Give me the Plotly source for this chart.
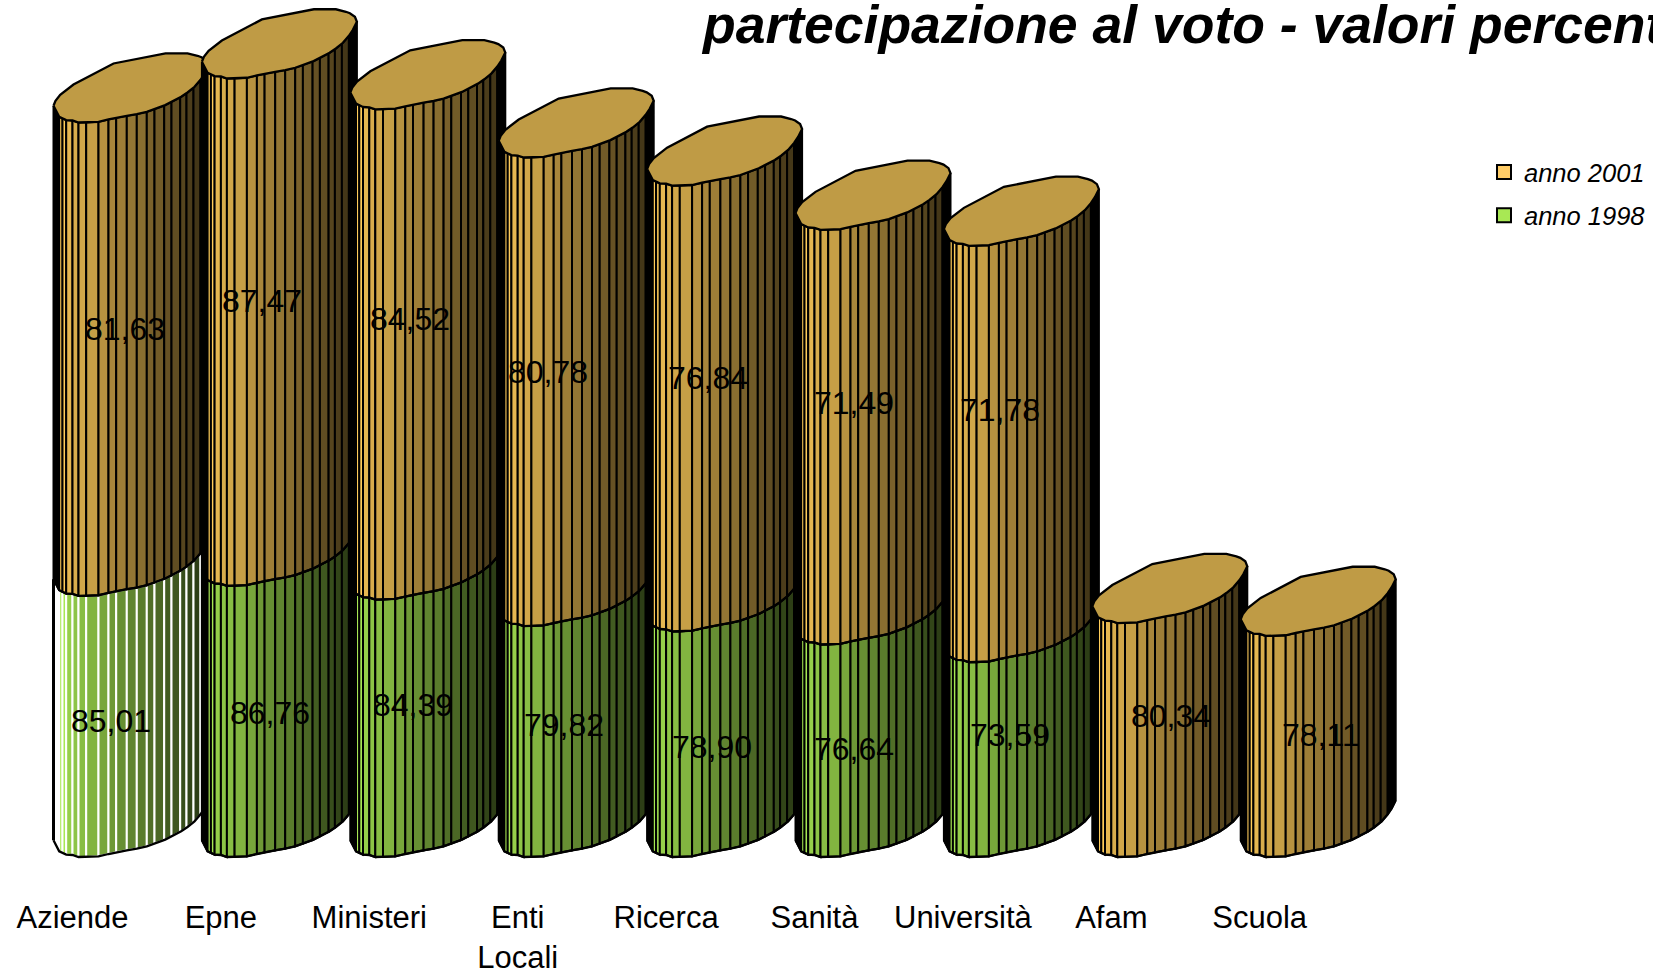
import numpy as np
import plotly.graph_objects as go

categories = ["Aziende", "Epne", "Ministeri", "Enti<br>Locali", "Ricerca", "Sanità", "Università", "Afam", "Scuola"]
anno_2001 = [81.63, 87.47, 84.52, 80.78, 76.84, 71.49, 71.78, 80.34, 78.11]
anno_1998 = [85.01, 86.76, 84.39, 79.82, 78.90, 76.64, 73.59, None, None]
AXIS_BASE = 40

# Scale of the picture
PX_X = 148.4      # px per category
PX_Y = 5.80       # px per value unit
W, H, MB = 1653, 974, 78
X0 = -127.5 / PX_X
Y_TOP = AXIS_BASE + 857 / PX_Y
Y_BOT = AXIS_BASE - (H - MB - 857) / PX_Y

# Cylinder geometry, px relative to its left point
FRONT = [(0, 0), (5.7, 11), (12.7, 14.3), (19, 14.7), (25, 16.7), (32.7, 16.7), (45, 16), (55, 13.7),
         (62.7, 12), (73.3, 10), (83.3, 8.3), (93.3, 6), (111.7, -0.7), (127.7, -9), (134, -13.3),
         (141, -19), (147, -26), (151, -32), (155, -40)]
BACK = [(155, -40), (153, -45), (148, -48.5), (144, -50), (134, -52.5), (112, -52.5), (60, -42.3), (40, -32),
        (20, -21.3), (6.7, -11), (2, -5), (0, 0)]
BREAKS = [0, 5.7, 9, 12.7, 19, 25, 32.7, 45, 55, 62.7, 73.3, 83.3, 93.3, 101, 110.7, 118, 126.7, 133, 140, 147, 155]
SHADE = [0, 1, 1, .9, .85, .82, .78, .72, .66, .62, .58, .54, .48, .45, .40, .38, .34, .30, .27, 0]
GOLD, GREEN, TOP_COL = (255, 204, 90), (167, 231, 83), "#BF9B45"
# Label offsets, px from the middle of the segment and the cylinder
LAB_2001_DX = [-3, -13.5, -14, -24.7, -13, -15.5, -18, 4.7, 6.3]
LAB_2001_DY = [-30, -31.5, -35.5, -20, -30.5, -34.5, -43.8, -24, -11.3]
LAB_1998_DX = [-16.8, -6, -11.3, -8.7, -9.6, -15.5, -8]
LAB_1998_DY = [-5, -8.5, -23, -17, 3, -1.6, -24.3]
TICK_SHIFT = -55 / PX_X

fx, fy = zip(*FRONT)


def front_y(dx):
    return float(np.interp(dx, fx, fy))


def to_data(i, level, pts):
    xs = [i + (dx - 74) / PX_X for dx, _ in pts]
    ys = [level - (dy - 16.7) / PX_Y for _, dy in pts]
    return xs, ys


def poly(fig, xs, ys, fill=None, line="black", width=2):
    fig.add_trace(go.Scatter(x=xs, y=ys, mode="lines", fill="toself" if fill else "none",
                             fillcolor=fill, line=dict(color=line, width=width),
                             hoverinfo="skip", showlegend=False))


def segment(fig, i, lo, hi, base, line="black"):
    for k in range(len(BREAKS) - 1):
        a, b = BREAKS[k], BREAKS[k + 1]
        inner = [(a, front_y(a))] + [p for p in FRONT if a < p[0] < b] + [(b, front_y(b))]
        xs1, ys1 = to_data(i, hi, inner)
        xs2, ys2 = to_data(i, lo, inner[::-1])
        s = SHADE[k]
        if s == 0 and line == "white":
            col = "white"
        else:
            col = "rgb(%d,%d,%d)" % tuple(int(c * s) for c in base)
        poly(fig, xs1 + xs2 + xs1[:1], ys1 + ys2 + ys1[:1], fill=col, line=line)
    xs, ys = to_data(i, lo, FRONT)
    poly(fig, xs, ys, width=2.3)


fig = go.Figure()
annots = []


def label(i, value, lo, hi, dx, dy):
    annots.append(dict(x=i + dx / PX_X, y=(lo + hi) / 2 - dy / PX_Y, xref="x", yref="y",
                       text=f"{value:.2f}".replace(".", ","), showarrow=False,
                       font=dict(family="Liberation Sans", size=32, color="black")))


for i, cat in enumerate(categories):
    lo = AXIS_BASE
    if anno_1998[i] is not None:
        hi = anno_1998[i]
        segment(fig, i, lo, hi, GREEN, line="white" if i == 0 else "black")
        if i == 0:
            xl, yl = to_data(i, lo, [(0, 0)])
            xh, yh = to_data(i, hi, [(0, 0)])
            poly(fig, xl + xh, yl + yh, width=3)
        label(i, hi, lo, hi, LAB_1998_DX[i], LAB_1998_DY[i])
        lo = hi
        hi = lo + anno_2001[i]
    else:
        hi = anno_2001[i]
    segment(fig, i, lo, hi, GOLD)
    xs, ys = to_data(i, hi, FRONT + BACK)
    poly(fig, xs, ys, fill=TOP_COL, width=2.3)
    label(i, anno_2001[i], lo, hi, LAB_2001_DX[i], LAB_2001_DY[i])

for name, col in (("anno 2001", "#FFCC66"), ("anno 1998", "#A8E854")):
    fig.add_trace(go.Scatter(x=[None], y=[None], mode="markers", name=name, legendgroup=name,
                             marker=dict(symbol="square", size=14, color=col, line=dict(color="black", width=2))))

annots.append(dict(x=699 / W, y=1 - 56 / (H - MB), xref="paper", yref="paper", xanchor="left", yanchor="bottom",
                   text="<b><i>partecipazione al voto - valori percentuali</i></b>", showarrow=False,
                   font=dict(family="Liberation Sans", size=53.5, color="black")))

fig.update_layout(
    width=W, height=H, margin=dict(l=0, r=0, t=0, b=MB, pad=0, autoexpand=False),
    paper_bgcolor="white", plot_bgcolor="white", annotations=annots,
    xaxis=dict(range=[X0, X0 + W / PX_X], showgrid=False, zeroline=False, showline=False, ticks="",
               automargin=False, tickmode="array", tickvals=[i + TICK_SHIFT for i in range(len(categories))],
               ticktext=categories, tickfont=dict(family="Liberation Sans", size=31, color="black"), tickangle=0),
    yaxis=dict(range=[Y_BOT, Y_TOP], visible=False, automargin=False),
    legend=dict(x=1484 / W, y=1 - 149 / (H - MB), xanchor="left", yanchor="top", bgcolor="rgba(0,0,0,0)",
                tracegroupgap=7, font=dict(family="Liberation Sans", size=25.5, style="italic", color="black")),
)
fig.write_html("out.html", post_script="document.body.style.margin='0';", config={"displayModeBar": False})
